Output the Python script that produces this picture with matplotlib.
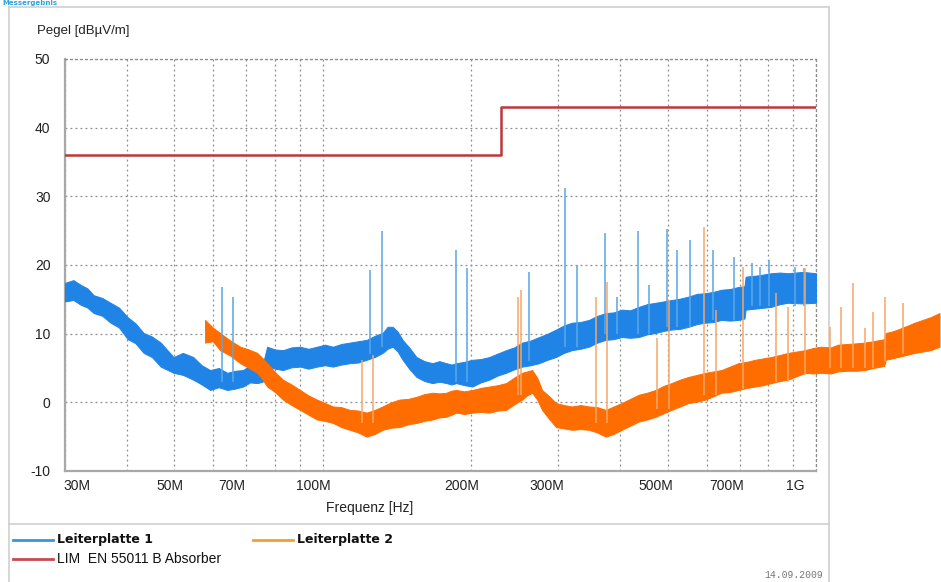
import matplotlib
matplotlib.use("Agg")
import matplotlib.pyplot as plt
import matplotlib.transforms as mtransforms
from matplotlib.lines import Line2D

# ---------------- data (frequencies in MHz, levels in dBµV/m) ----------------
blue_freq = [30, 31.2, 32.3, 33.3, 34.3, 35.7, 37.1, 38.6, 40.2, 41.7, 43.3, 45.0, 46.9,
             49.8, 52.0, 54.6, 56.8, 59.1, 61.5, 64.0, 66.4, 68.9, 71.2,
             73.6, 75.5, 77.1, 80.0, 83.0, 86.4, 89.9, 93.5, 97.3, 101.0, 104.8, 109.0,
             113.4, 118.0, 122.7, 127.5, 132.2, 135.3, 138.5, 141.8,
             145.1, 150.0, 154.8, 160.7, 166.8, 172.3, 178.1, 182.3, 186.5, 193.5, 200.9,
             209.0, 217.5, 226.2, 235.3, 244.3, 253.5, 263.8, 274.4, 285.5,
             297.0, 308.3, 320.0, 333.0, 346.3, 360.3, 374.7, 389.0, 403.7, 420.0, 436.9,
             454.5, 472.9, 491.0, 509.4, 530.0, 551.3, 574.0, 596.8,
             620.0, 642.9, 669.0, 695.7, 716, 720, 765.0, 811.1, 845.0, 877.8, 940.0, 1000]
blue_lo = [14.7, 14.9, 14.2, 13.8, 13.0, 12.6, 11.6, 10.9, 9.2, 8.6, 7.2, 6.6, 5.2,
           4.3, 4.0, 3.3, 2.6, 1.8, 2.2, 1.8, 2.0, 2.3, 2.9,
           2.8, 3.0, 5.2, 4.9, 4.7, 5.1, 5.2, 4.9, 5.2, 5.4, 5.2, 5.5,
           5.7, 5.8, 6.2, 6.6, 7.2, 7.8, 8.1, 7.4,
           6.2, 4.8, 3.7, 3.1, 2.8, 3.0, 2.8, 2.6, 2.8, 2.5, 2.3,
           2.9, 3.3, 3.9, 4.3, 4.8, 5.2, 5.4, 5.7, 6.2,
           6.6, 7.2, 7.6, 7.8, 8.1, 8.7, 9.1, 9.2, 9.5, 9.4, 9.5,
           9.9, 10.1, 10.4, 10.6, 10.7, 11.0, 11.4, 11.6,
           11.7, 12.0, 11.9, 12.0, 12.2, 13.5, 13.7, 13.9, 14.3, 14.5, 14.4, 14.5]
blue_hi = [17.4, 17.8, 17.1, 16.6, 15.6, 15.2, 14.5, 13.8, 12.4, 11.5, 10.1, 9.6, 8.7,
           6.6, 7.2, 6.6, 5.4, 4.7, 5.0, 4.3, 4.6, 4.7, 5.4,
           5.2, 5.5, 8.1, 7.7, 7.6, 8.0, 8.1, 7.8, 8.1, 8.4, 8.1, 8.5,
           8.7, 8.9, 9.1, 9.7, 10.1, 11.0, 11.0, 10.3,
           9.1, 7.9, 6.6, 6.0, 5.7, 6.0, 5.7, 5.5, 5.7, 5.9, 6.2,
           6.3, 6.6, 7.1, 7.6, 8.0, 8.7, 9.0, 9.5, 10.0,
           10.6, 11.2, 11.6, 11.7, 12.0, 12.6, 13.0, 13.1, 13.5, 13.4, 13.9,
           14.3, 14.5, 14.7, 14.9, 15.1, 15.4, 15.8, 15.9,
           16.1, 16.4, 16.5, 16.8, 16.9, 18.3, 18.5, 18.8, 18.9, 18.8, 19.0, 18.8]

orange_freq = [57.7, 59.8, 61.9, 64.9, 68.0, 70.8, 73.6, 75.3, 77.1, 80.0, 83.0, 86.4,
               89.9, 93.5, 97.3, 101.0, 104.8, 109.0, 113.4, 118.0, 122.7, 127.5,
               132.2, 137.5, 143.0, 148.9, 154.8, 160.7, 166.8, 172.3, 178.1, 182.3,
               186.5, 193.5, 200.9, 209.0, 217.5, 226.2, 235.3, 244.3, 253.5,
               259.5, 265.6, 272.0, 278.3, 287.5, 297.0, 308.3, 320.0, 333.0, 346.3,
               360.3, 374.7, 389.0, 403.7, 420.0, 436.9, 454.5, 472.9, 491.0, 509.4,
               530.0, 551.3, 574.0, 596.8, 620.0, 642.9, 669.0, 695.7, 724.0, 753,
               782.0, 811.1, 845.0, 877.8, 913.0, 949.9, 986.0, 1023.5, 1072,
               1108, 1160, 1210, 1256, 1305, 1353, 1375, 1385, 1425, 1465, 1525,
               1585, 1645, 1708, 1780]
orange_lo = [8.7, 8.9, 7.6, 6.8, 5.7, 5.0, 4.3, 3.4, 2.3, 1.5, 0.4, -0.4,
             -1.1, -1.8, -2.5, -2.7, -3.0, -3.6, -4.0, -4.4, -5.0, -4.6,
             -4.0, -3.7, -3.6, -3.2, -3.0, -2.7, -2.5, -2.2, -2.1, -1.8,
             -1.5, -1.7, -1.5, -1.4, -1.5, -1.2, -1.1, -0.3, 0.4,
             1.0, 1.4, 0.4, -1.1, -2.4, -3.6, -3.8, -4.0, -3.9, -4.0,
             -4.4, -5.0, -4.6, -4.0, -3.4, -2.8, -2.5, -2.1, -1.6, -1.1,
             -0.6, -0.1, 0.1, 0.4, 0.9, 1.4, 1.5, 1.8, 2.1, 2.3,
             2.5, 2.8, 3.1, 3.3, 3.8, 4.3, 4.2, 4.3, 4.2,
             4.5, 4.6, 4.6, 4.7, 5.0, 5.2, 5.3, 6.2, 6.4, 6.6, 6.9,
             7.2, 7.4, 7.6, 8.1]
orange_hi = [12.0, 10.9, 10.1, 9.0, 8.1, 7.7, 7.2, 6.5, 5.7, 4.4, 3.3, 2.6,
             1.8, 1.0, 0.4, -0.1, -0.6, -0.7, -1.1, -1.2, -1.5, -1.1,
             -0.6, 0.0, 0.4, 0.5, 0.8, 1.2, 1.4, 1.3, 1.4, 1.7,
             1.8, 1.6, 1.8, 2.1, 2.3, 2.5, 2.8, 3.6, 4.3,
             4.5, 4.7, 3.6, 1.8, 0.9, -0.1, -0.4, -0.6, -0.4, -0.6,
             -0.7, -1.1, -0.6, -0.1, 0.5, 1.1, 1.4, 1.8, 2.4, 2.8,
             3.3, 3.7, 4.0, 4.3, 4.5, 4.7, 5.2, 5.7, 5.9, 6.2,
             6.4, 6.6, 6.9, 7.2, 7.4, 7.6, 7.9, 8.1, 8.0,
             8.4, 8.5, 8.6, 8.7, 8.9, 9.1, 9.2, 10.1, 10.3, 10.6, 11.1,
             11.6, 12.0, 12.4, 13.0]

blue_spike_freq = [62.5, 65.8, 124.5, 131.5, 186.5, 196.3, 261.9, 309.7, 327.4, 373,
                   394.5, 434.6, 458, 497.7, 523.6, 556, 619, 682, 742, 771, 803, 907, 946]
blue_spike_peak = [16.8, 15.3, 19.3, 25.0, 22.2, 19.6, 19.0, 31.2, 20.0, 24.6,
                   15.4, 25.0, 17.1, 25.2, 22.2, 23.6, 22.2, 21.2, 20.3, 19.7, 20.7, 19.7, 19.6]
blue_spike_base = [3, 3, 7, 8, 3, 3, 6, 8, 8, 10,
                   10, 10, 10, 11, 11, 11, 12, 12, 14, 14, 14, 14, 14]

orange_spike_freq = [119.9, 126.2, 248.9, 252.3, 357.7, 376.5, 475.3, 502.3, 594, 628,
                     712, 830, 877, 950, 1067, 1124, 1188, 1256, 1303, 1377, 1499]
orange_spike_peak = [6.2, 6.9, 15.4, 16.4, 15.4, 17.5, 9.4, 14.9, 25.5, 13.5,
                     19.7, 15.9, 13.9, 19.6, 11.0, 13.9, 17.4, 10.8, 13.2, 15.4, 14.5]
orange_spike_base = [-3, -3, 1, 1, -3, -3, -1, -1, 1, 1,
                     2, 3, 3, 4, 5, 5, 5, 5, 5, 6, 7]

limit_freq = [30, 230, 230, 1000]
limit_level = [36, 36, 43, 43]

x_tick_values = [30, 50, 70, 100, 200, 300, 500, 700, 1000]
x_tick_labels = ["30M", "50M", "70M", "100M", "200M", "300M", "500M", "700M", "1G"]
x_minor_values = [40, 60, 80, 90, 400, 600, 800, 900]
y_tick_values = [-10, 0, 10, 20, 30, 40, 50]

series_names = ["Leiterplatte 1", "Leiterplatte 2", "LIM  EN 55011 B Absorber"]

# ---------------- styling ----------------
BLUE = "#1f84e6"
BLUE_SPIKE = "#5aa6e6"
ORANGE = "#ff6c00"
ORANGE_SPIKE = "#f7a766"
RED = "#c0363a"
GRID = "#8c8c8c"
FONT = "Liberation Sans"

W, H = 941, 582
fig = plt.figure(figsize=(W / 100, H / 100), dpi=100)
fig.patch.set_facecolor("white")

def fx(x):
    return x / W

def fy(y):
    return 1 - y / H

ax = fig.add_axes([fx(65), fy(471), (816 - 65) / W, (471 - 59) / H])
ax.set_facecolor("none")

ax.fill_between(blue_freq, blue_lo, blue_hi, color=BLUE, lw=0.7, zorder=3)
ax.fill_between(orange_freq, orange_lo, orange_hi, color=ORANGE, lw=0.7,
                zorder=4, clip_on=False)
ax.vlines(blue_spike_freq, blue_spike_base, blue_spike_peak, color=BLUE_SPIKE,
          lw=1.1, zorder=5)
ax.vlines(orange_spike_freq, orange_spike_base, orange_spike_peak,
          color=ORANGE_SPIKE, lw=1.1, zorder=6, clip_on=False)
ax.plot(limit_freq, limit_level, color=RED, lw=1.8, zorder=7)

ax.set_xscale("log")
ax.set_xlim(30, 1000)
ax.set_ylim(-10, 50)
ax.set_xticks(x_tick_values)
ax.set_xticklabels([])
ax.set_xticks(x_minor_values, minor=True)
ax.set_yticks(y_tick_values)
ax.set_yticklabels([str(v) for v in y_tick_values], fontfamily=FONT, fontsize=10)
ax.tick_params(which="both", length=0, colors="#222222")
ax.tick_params(axis="y", pad=10.5)

dotted = (0, (1.5, 2.5))
ax.grid(which="major", color=GRID, ls=dotted, lw=0.9)
ax.grid(which="minor", axis="x", color=GRID, ls=dotted, lw=0.9)
for s in ("left", "bottom"):
    ax.spines[s].set_color("#a8a8a8")
    ax.spines[s].set_linewidth(1.6)
for s in ("top", "right"):
    ax.spines[s].set_color(GRID)
    ax.spines[s].set_linestyle(dotted)
    ax.spines[s].set_linewidth(0.9)

label_dx = [12, -4, -15, -10, -10, -11, -12, -13, -21]
for v, lab, dx in zip(x_tick_values, x_tick_labels, label_dx):
    tr = ax.get_xaxis_transform() + mtransforms.ScaledTranslation(
        dx / 100, -15 / 100, fig.dpi_scale_trans)
    ax.text(v, 0, lab, transform=tr, ha="center", va="center",
            fontfamily=FONT, fontsize=10, color="#222222")

fig.text(fx(37), fy(31), "Pegel [dBµV/m]", fontfamily=FONT, fontsize=9.5,
         ha="left", va="center", color="#222222")
fig.text(fx(370), fy(508), "Frequenz [Hz]", fontfamily=FONT, fontsize=10,
         ha="center", va="center", color="#222222")

# outer frame and separator
for (x0, y0, x1, y1) in [(9, 7, 829, 7), (9, 7, 9, 582), (829, 7, 829, 582),
                         (9, 524, 829, 524)]:
    fig.add_artist(Line2D([fx(x0), fx(x1)], [fy(y0), fy(y1)], color="#cfcfcf",
                          lw=1.2, zorder=-1))

# small heading at the very top
fig.text(fx(2), fy(0.5), "Messergebnis", fontfamily="DejaVu Sans", fontweight="bold",
         fontsize=5, color="#2aa3e3", ha="left", va="top")

# legend
legend_items = [
    (13, 540, "#3596dc", series_names[0], dict(fontfamily="DejaVu Sans", fontweight="bold", fontsize=9)),
    (253, 540, "#f0a030", series_names[1], dict(fontfamily="DejaVu Sans", fontweight="bold", fontsize=9)),
    (13, 559, "#c84a50", series_names[2], dict(fontfamily=FONT, fontsize=10)),
]
for x0, y0, col, name, kw in legend_items:
    fig.add_artist(Line2D([fx(x0), fx(x0 + 40)], [fy(y0), fy(y0)], color=col, lw=2))
    fig.text(fx(x0 + 44), fy(y0), name, ha="left", va="center", color="#111111", **kw)

fig.text(fx(823), fy(575), "14.09.2009", fontfamily="Liberation Mono", fontsize=7,
         color="#777777", ha="right", va="center")

fig.savefig("out.png", dpi=100)
